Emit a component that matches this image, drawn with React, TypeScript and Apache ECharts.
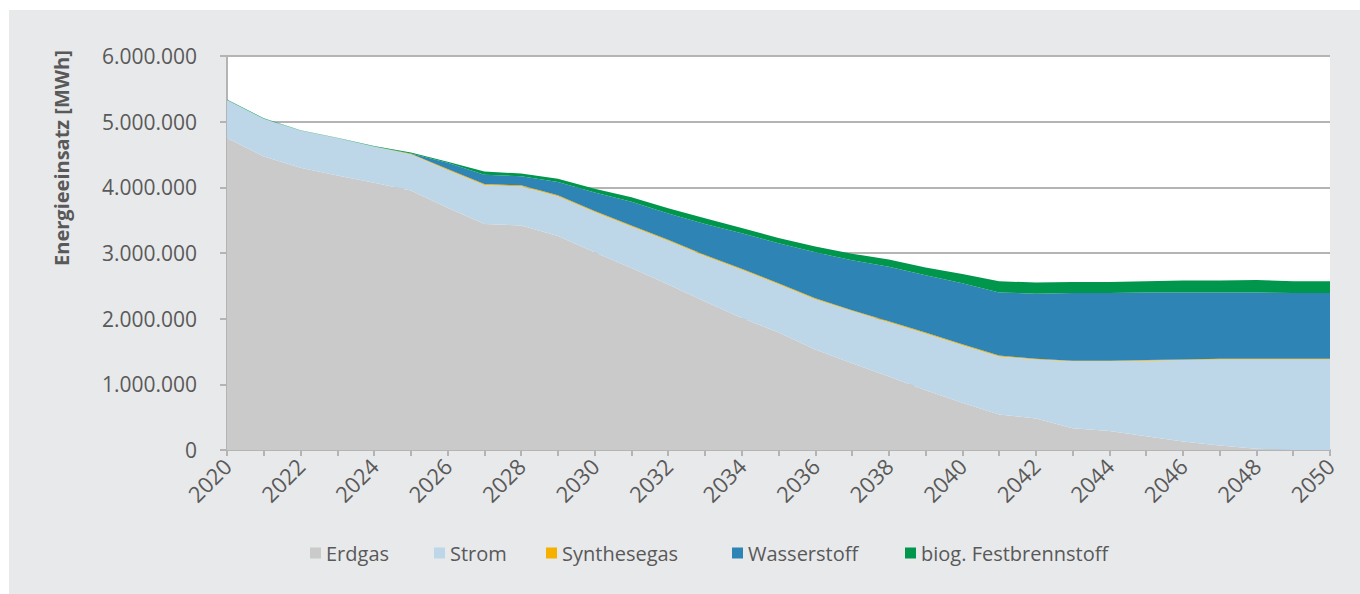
import React, { useEffect, useRef } from "react";
import * as echarts from "echarts";

const years = [
  "2020","2021","2022","2023","2024","2025","2026","2027","2028","2029","2030",
  "2031","2032","2033","2034","2035","2036","2037","2038","2039","2040",
  "2041","2042","2043","2044","2045","2046","2047","2048","2049","2050",
];

const erdgas = [
  4750000, 4470000, 4300000, 4180000, 4070000, 3950000, 3690000, 3440000, 3420000, 3260000, 3010000,
  2770000, 2520000, 2260000, 2010000, 1790000, 1530000, 1320000, 1120000, 910000, 720000,
  540000, 480000, 330000, 290000, 210000, 130000, 70000, 20000, 0, 0,
];

const strom = [
  580000, 575000, 565000, 570000, 550000, 552000, 575000, 595000, 595000, 605000, 615000,
  635000, 665000, 695000, 735000, 735000, 765000, 795000, 825000, 865000, 875000,
  885000, 900000, 1020000, 1060000, 1150000, 1240000, 1310000, 1360000, 1380000, 1380000,
];

const synthesegas = [
  0, 0, 0, 0, 0, 8000, 15000, 15000, 15000, 15000, 15000,
  15000, 15000, 15000, 15000, 15000, 15000, 15000, 15000, 15000, 15000,
  15000, 10000, 10000, 10000, 10000, 10000, 10000, 10000, 10000, 10000,
];

const wasserstoff = [
  0, 0, 0, 0, 0, 5000, 95000, 140000, 140000, 200000, 280000,
  360000, 400000, 470000, 540000, 610000, 700000, 760000, 830000, 870000, 930000,
  960000, 990000, 1030000, 1030000, 1030000, 1020000, 1010000, 1010000, 1000000, 1000000,
];

const festbrennstoff = [
  6000, 6000, 3000, 6000, 8000, 15000, 15000, 50000, 40000, 50000, 60000,
  70000, 80000, 90000, 80000, 80000, 90000, 100000, 110000, 120000, 140000,
  170000, 170000, 170000, 170000, 170000, 180000, 180000, 190000, 180000, 180000,
];

const seriesNames = ["Erdgas", "Strom", "Synthesegas", "Wasserstoff", "biog. Festbrennstoff"];
const seriesData = [erdgas, strom, synthesegas, wasserstoff, festbrennstoff];
const seriesColors = ["#c9cac9", "#bdd7e9", "#f5b000", "#2e84b4", "#00964b"];
const legendLeft = [305, 429, 541, 727, 900];

const yTicks = [0, 1000000, 2000000, 3000000, 4000000, 5000000, 6000000];

const fmt = (v: number) => String(Math.round(v)).replace(/\B(?=(\d{3})+(?!\d))/g, ".");

const FONT = "'Open Sans', 'Noto Sans', sans-serif";
const TXT = "#595959";
const GRIDC = "#b4b4b4";

export default function App() {
  const ref = useRef<HTMLDivElement>(null);
  useEffect(() => {
    if (!ref.current) return;
    const chart = echarts.init(ref.current, undefined, { renderer: "svg" });
    chart.setOption({
      animation: false,
      backgroundColor: "transparent",
      textStyle: { fontFamily: FONT },
      grid: {
        left: 227,
        right: 30,
        top: 56,
        bottom: 144,
        show: true,
        backgroundColor: "#ffffff",
        borderWidth: 0,
      },
      legend: seriesNames.map((n, i) => ({
        data: [n],
        left: legendLeft[i],
        top: 538,
        itemWidth: 11,
        itemHeight: 11,
        icon: "rect",
        selectedMode: false,
        textStyle: { color: TXT, fontSize: 20, fontFamily: FONT },
      })),
      graphic: [
        {
          type: "text",
          x: 61,
          y: 158,
          rotation: Math.PI / 2,
          style: {
            text: "Energieeinsatz [MWh]",
            fill: TXT,
            fontSize: 20,
            fontWeight: "bold",
            fontFamily: FONT,
            textAlign: "center",
            textVerticalAlign: "middle",
          },
        },
      ],
      xAxis: {
        type: "category",
        data: years,
        boundaryGap: false,
        axisLine: { show: true, lineStyle: { color: GRIDC, width: 2 } },
        axisTick: { show: true, interval: 0, length: 6, lineStyle: { color: GRIDC, width: 2 } },
        axisLabel: {
          interval: 1,
          rotate: 45,
          margin: 12,
          color: TXT,
          fontSize: 22,
          fontFamily: FONT,
        },
        splitLine: { show: false },
      },
      yAxis: {
        type: "value",
        min: yTicks[0],
        max: yTicks[yTicks.length - 1],
        interval: yTicks[1] - yTicks[0],
        axisLine: { show: true, lineStyle: { color: GRIDC, width: 2 } },
        axisTick: { show: true, length: 7, lineStyle: { color: GRIDC, width: 2 } },
        axisLabel: {
          margin: 30,
          color: TXT,
          fontSize: 21,
          fontFamily: FONT,
          formatter: (v: number) => fmt(v),
        },
        splitLine: { show: true, lineStyle: { color: GRIDC, width: 2 } },
      },
      series: seriesNames.map((n, i) => ({
        name: n,
        type: "line",
        stack: "total",
        data: seriesData[i],
        symbol: "none",
        showSymbol: false,
        lineStyle: { width: 0, color: seriesColors[i] },
        itemStyle: { color: seriesColors[i] },
        areaStyle: { color: seriesColors[i], opacity: 1 },
      })),
    });
    return () => chart.dispose();
  }, []);

  return (
    <div style={{ position: "fixed", left: 0, top: 0, width: 1360, height: 594, background: "#ffffff" }}>
      <div style={{ position: "absolute", left: 9, top: 10, width: 1351, height: 584, background: "#e8e9eb" }} />
      <div ref={ref} style={{ position: "absolute", left: 0, top: 0, width: 1360, height: 594 }} />
    </div>
  );
}
